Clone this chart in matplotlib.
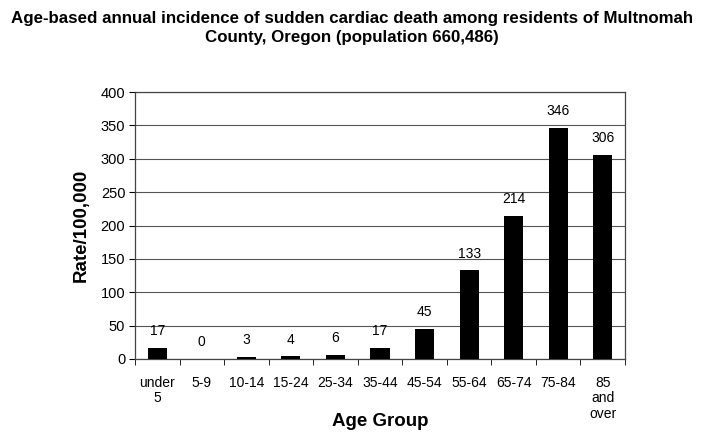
import matplotlib.pyplot as plt
import numpy as np

# --- dados ---
grupos = ["under\n5", "5-9", "10-14", "15-24", "25-34", "35-44", "45-54",
          "55-64", "65-74", "75-84", "85\nand\nover"]
taxas = [17, 0, 3, 4, 6, 17, 45, 133, 214, 346, 306]
rotulos = ["17", "0", "3", "4", "6", "17", "45", "133", "214", "346", "306"]
y_ticks = [0, 50, 100, 150, 200, 250, 300, 350, 400]

plt.rcParams["font.family"] = ["Liberation Sans", "DejaVu Sans"]

fig = plt.figure(figsize=(7.04, 4.38), dpi=100)
ax = fig.add_axes([135 / 704, 1 - 359 / 438, 490 / 704, 267 / 438])

x = np.arange(len(grupos))
ax.bar(x, taxas, width=0.43, color="black", zorder=3)

# rótulos de valor acima das barras
for xi, v, r in zip(x, taxas, rotulos):
    ax.annotate(r, (xi, v), xytext=(0, 7), textcoords="offset points",
                ha="center", va="bottom", fontsize=10)

ax.set_xlim(-0.5, len(grupos) - 0.5)
ax.set_ylim(0, 400)
ax.set_yticks(y_ticks)
ax.tick_params(axis="y", labelsize=10.5, length=4, direction="out", pad=3)
ax.set_xticks(x)
ax.set_xticklabels(grupos, fontsize=10, va="top", linespacing=1.15)
ax.tick_params(axis="x", length=0, pad=12)
ax.set_xticks(np.arange(len(grupos) + 1) - 0.5, minor=True)
ax.tick_params(axis="x", which="minor", length=4, direction="out")

ax.grid(axis="y", color="#555555", linewidth=0.8, zorder=0)
for s in ax.spines.values():
    s.set_color("#444444")
    s.set_linewidth(0.9)

ax.set_ylabel("Rate/100,000", fontsize=13.5, fontweight="bold", labelpad=8)
fig.text(380 / 704, 1 - 422 / 438, "Age Group", ha="center", va="center",
         fontsize=13.5, fontweight="bold")

fig.suptitle("Age-based annual incidence of sudden cardiac death among residents of Multnomah\n"
             "County, Oregon (population 660,486)",
             x=0.5, y=1 - 11 / 438, fontsize=12.2, fontweight="bold", linespacing=1.3)

fig.savefig("out.png", dpi=100)
